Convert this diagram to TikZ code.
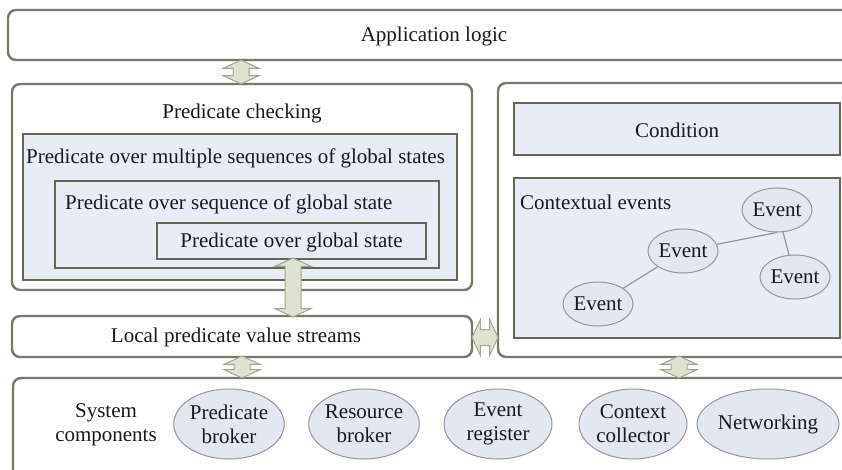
\documentclass[tikz,border=0pt]{standalone}
\usepackage{fontspec}
\setmainfont{Liberation Serif}
\usetikzlibrary{shapes.geometric,shapes.arrows}
\definecolor{boxline}{RGB}{118,120,104}
\definecolor{inline}{RGB}{100,104,82}
\definecolor{infill}{RGB}{232,236,246}
\definecolor{ellfill}{RGB}{226,231,241}
\definecolor{elline}{RGB}{150,150,155}
\definecolor{arrfill}{RGB}{222,226,208}
\definecolor{arrline}{RGB}{160,164,145}
\definecolor{txt}{RGB}{25,25,25}
\begin{document}
\begin{tikzpicture}[x=1pt,y=-1pt,
  font=\fontsize{21}{24}\selectfont, text=txt,
  outer/.style={draw=boxline,line width=2.4pt,rounded corners=8pt,fill=white,inner sep=0pt},
  inner/.style={draw=inline,line width=2.4pt,fill=infill,inner sep=0pt},
  ell/.style={ellipse,draw=elline,line width=1pt,fill=ellfill,inner sep=0pt,align=center},
  evt/.style={ell,minimum width=70pt,minimum height=44pt},
  comp/.style={ell,minimum width=108pt,minimum height=70pt},
  link/.style={draw=elline,line width=1.2pt},
  dbl/.style={double arrow,draw=arrline,fill=arrfill,line width=1pt,inner xsep=0pt,inner ysep=7.5pt,
    double arrow tip angle=130,minimum width=35pt,double arrow head extend=10pt},
  lbl/.style={inner sep=0pt,align=center}]
\useasboundingbox (0,0) rectangle (842,470);
\clip (0,0) rectangle (842,470);
\fill[white] (0,0) rectangle (842,470);

% boxes
\node[outer,minimum width=842pt,minimum height=50pt] (app) at (429,35) {};
\node[outer,minimum width=460pt,minimum height=206pt] (pc) at (242,187) {};
\node[inner,minimum width=434pt,minimum height=146pt] (multi) at (240,207) {};
\node[inner,minimum width=384pt,minimum height=87pt] (seq) at (247,224.5) {};
\node[inner,minimum width=269pt,minimum height=36pt] (glob) at (291.5,241) {};
\node[outer,minimum width=352pt,minimum height=274pt] (right) at (674,220) {};
\node[inner,minimum width=326pt,minimum height=52pt] (cond) at (677,129) {};
\node[inner,minimum width=326pt,minimum height=160pt] (ctx) at (677,258) {};
\node[outer,minimum width=460pt,minimum height=41pt] (lpvs) at (242,336.5) {};
\node[outer,minimum width=837pt,minimum height=102pt] (sys) at (431.5,429) {};

% labels
\node[lbl] (tapp) at (434,36) {Application logic};
\node[lbl] (tpc) at (242,113) {Predicate checking};
\node[lbl,anchor=west] (tmulti) at (26,158) {Predicate over multiple sequences of global states};
\node[lbl,anchor=west] (tseq) at (65,204) {Predicate over sequence of global state};
\node[lbl] (tglob) at (291.5,242) {Predicate over global state};
\node[lbl] (tcond) at (677,130) {Condition};
\node[lbl,anchor=west] (tctx) at (520,202) {Contextual events};
\node[lbl] (tlpvs) at (236,337) {Local predicate value streams};
\node[lbl] (tsys) at (106,425) {System\\components};

% events
\node[evt] (e1) at (777,210) {Event};
\node[evt] (e2) at (683,251) {Event};
\node[evt] (e3) at (795,277) {Event};
\node[evt] (e4) at (598,304) {Event};
\draw[link] (e4) -- (e2);
\draw[link] (e2) -- (e1.south);
\draw[link] (e1) -- (e3);

% components
\node[comp] (c1) at (229,424) {Predicate\\broker};
\node[comp] (c2) at (364,424) {Resource\\broker};
\node[comp] (c3) at (498,424) {Event\\register};
\node[comp] (c4) at (633,424) {Context\\collector};
\node[comp] (c5) at (768,424) {Networking};

% double arrows
\node[dbl,rotate=90,minimum height=24pt] (a1) at (241,72) {};
\node[dbl,rotate=90,minimum height=59pt] (a2) at (293,287.5) {};
\node[dbl,minimum height=26pt] (a3) at (485,337.5) {};
\node[dbl,rotate=90,minimum height=22pt] (a4) at (242,367) {};
\node[dbl,rotate=90,minimum height=22pt] (a5) at (679,367) {};
\end{tikzpicture}
\end{document}
